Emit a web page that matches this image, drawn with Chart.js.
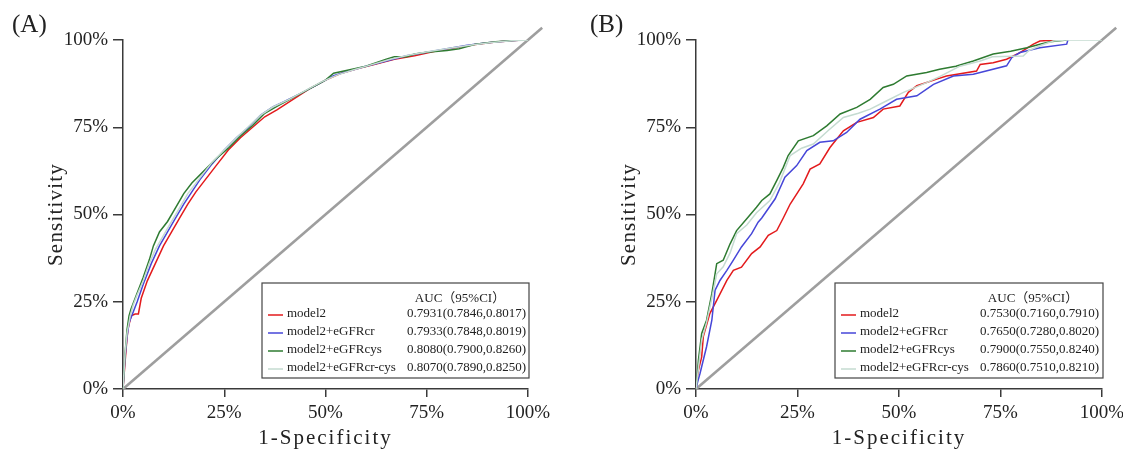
<!DOCTYPE html>
<html>
<head>
<meta charset="utf-8">
<script src="https://cdn.jsdelivr.net/npm/chart.js@4.4.1/dist/chart.umd.min.js"></script>
<style>
  html, body { margin: 0; padding: 0; background: #fff; }
  #wrap { position: relative; width: 1123px; height: 449px; overflow: hidden; }
  canvas { position: absolute; top: 0; }
  #roc-a { left: 0; }
  #roc-b { left: 573px; }
</style>
</head>
<body>
<div id="wrap">
  <canvas id="roc-a" width="573" height="449"></canvas>
  <canvas id="roc-b" width="550" height="449"></canvas>
</div>
<script>
const SERIES_NAMES = ["model2", "model2+eGFRcr", "model2+eGFRcys", "model2+eGFRcr-cys"];
const COLORS = ["#e31a1c", "#4646d8", "#2e7b31", "#c5dbd1"];
const AUC_HEADER = "AUC（95%CI）";
const AUC_A = ["0.7931(0.7846,0.8017)", "0.7933(0.7848,0.8019)", "0.8080(0.7900,0.8260)", "0.8070(0.7890,0.8250)"];
const AUC_B = ["0.7530(0.7160,0.7910)", "0.7650(0.7280,0.8020)", "0.7900(0.7550,0.8240)", "0.7860(0.7510,0.8210)"];
const TICK_VALUES = [0, 0.25, 0.5, 0.75, 1];
const TICK_LABELS = ["0%", "25%", "50%", "75%", "100%"];
const X_TITLE = "1-Specificity";
const Y_TITLE = "Sensitivity";
const DIAGONAL = [[0, 0], [1.035, 1.035]];

// panel A curves, [1-specificity, sensitivity]
const A_MODEL2 = [[0,0],[0.004,0.06],[0.008,0.12],[0.012,0.17],[0.02,0.21],[0.03,0.215],[0.038,0.215],[0.045,0.26],[0.06,0.31],[0.08,0.36],[0.10,0.41],[0.12,0.45],[0.14,0.49],[0.16,0.53],[0.18,0.565],[0.20,0.595],[0.23,0.64],[0.26,0.685],[0.29,0.72],[0.32,0.75],[0.35,0.78],[0.38,0.80],[0.42,0.83],[0.46,0.86],[0.50,0.885],[0.54,0.905],[0.58,0.918],[0.62,0.93],[0.67,0.945],[0.72,0.955],[0.77,0.968],[0.82,0.978],[0.87,0.987],[0.92,0.994],[0.985,1.0]];
const A_CR = [[0,0],[0.005,0.09],[0.01,0.15],[0.015,0.19],[0.025,0.22],[0.035,0.25],[0.05,0.30],[0.07,0.36],[0.09,0.41],[0.11,0.45],[0.13,0.49],[0.15,0.53],[0.17,0.565],[0.19,0.60],[0.22,0.645],[0.25,0.685],[0.28,0.72],[0.31,0.75],[0.34,0.785],[0.37,0.808],[0.40,0.825],[0.44,0.848],[0.48,0.872],[0.52,0.898],[0.56,0.912],[0.60,0.925],[0.65,0.94],[0.70,0.955],[0.75,0.965],[0.80,0.975],[0.85,0.985],[0.90,0.992],[0.95,0.997],[0.985,1.0]];
const A_CYS = [[0,0],[0.005,0.1],[0.01,0.17],[0.015,0.21],[0.02,0.23],[0.03,0.26],[0.04,0.29],[0.05,0.32],[0.065,0.37],[0.075,0.41],[0.09,0.45],[0.11,0.48],[0.13,0.52],[0.15,0.56],[0.17,0.59],[0.20,0.625],[0.23,0.66],[0.26,0.69],[0.29,0.725],[0.32,0.755],[0.35,0.79],[0.38,0.81],[0.42,0.835],[0.46,0.86],[0.50,0.885],[0.52,0.905],[0.56,0.915],[0.60,0.925],[0.65,0.945],[0.67,0.952],[0.70,0.952],[0.72,0.96],[0.75,0.965],[0.80,0.97],[0.83,0.975],[0.87,0.988],[0.92,0.995],[0.98,1.0]];
const A_CRCYS = [[0,0],[0.005,0.1],[0.01,0.16],[0.018,0.21],[0.025,0.24],[0.035,0.27],[0.05,0.31],[0.065,0.36],[0.08,0.40],[0.10,0.44],[0.12,0.48],[0.14,0.52],[0.16,0.56],[0.19,0.605],[0.22,0.65],[0.25,0.685],[0.28,0.72],[0.31,0.752],[0.34,0.785],[0.37,0.808],[0.41,0.83],[0.45,0.855],[0.49,0.88],[0.53,0.9],[0.57,0.915],[0.61,0.928],[0.66,0.945],[0.71,0.958],[0.76,0.968],[0.81,0.977],[0.86,0.986],[0.91,0.993],[0.96,0.998],[1.0,1.0]];

// panel B curves
const B_MODEL2 = [[0,0],[0.003,0.03],[0.006,0.054],[0.014,0.092],[0.018,0.15],[0.034,0.216],[0.051,0.254],[0.076,0.311],[0.092,0.34],[0.112,0.349],[0.137,0.388],[0.158,0.407],[0.178,0.44],[0.199,0.454],[0.215,0.49],[0.232,0.53],[0.264,0.588],[0.281,0.63],[0.305,0.645],[0.33,0.692],[0.363,0.74],[0.396,0.764],[0.437,0.778],[0.461,0.802],[0.502,0.811],[0.523,0.85],[0.544,0.869],[0.593,0.888],[0.617,0.897],[0.691,0.911],[0.70,0.93],[0.732,0.935],[0.765,0.945],[0.798,0.964],[0.831,0.988],[0.847,0.997],[0.884,1.0]];
const B_CR = [[0,0],[0.004,0.02],[0.01,0.045],[0.026,0.121],[0.039,0.197],[0.047,0.283],[0.059,0.311],[0.076,0.34],[0.092,0.369],[0.112,0.407],[0.137,0.445],[0.153,0.478],[0.162,0.49],[0.195,0.545],[0.219,0.607],[0.248,0.64],[0.273,0.683],[0.305,0.707],[0.338,0.711],[0.371,0.735],[0.404,0.773],[0.453,0.802],[0.494,0.83],[0.544,0.84],[0.585,0.873],[0.634,0.897],[0.683,0.902],[0.765,0.926],[0.778,0.95],[0.798,0.964],[0.847,0.978],[0.913,0.988],[0.916,1.0]];
const B_CYS = [[0,0],[0.003,0.04],[0.006,0.083],[0.014,0.159],[0.026,0.197],[0.039,0.273],[0.051,0.359],[0.067,0.369],[0.084,0.416],[0.10,0.454],[0.125,0.488],[0.149,0.521],[0.162,0.54],[0.182,0.559],[0.20,0.60],[0.215,0.635],[0.227,0.669],[0.252,0.711],[0.289,0.726],[0.322,0.754],[0.355,0.788],[0.396,0.807],[0.429,0.83],[0.461,0.864],[0.486,0.873],[0.519,0.897],[0.568,0.907],[0.60,0.916],[0.64,0.925],[0.683,0.94],[0.732,0.96],[0.775,0.968],[0.815,0.978],[0.845,0.987],[0.872,0.995],[0.913,1.0]];
const B_CRCYS = [[0,0],[0.004,0.04],[0.008,0.08],[0.014,0.14],[0.026,0.19],[0.039,0.26],[0.051,0.33],[0.067,0.35],[0.084,0.39],[0.10,0.445],[0.125,0.47],[0.149,0.505],[0.182,0.54],[0.205,0.59],[0.232,0.669],[0.26,0.69],[0.289,0.702],[0.325,0.74],[0.363,0.778],[0.40,0.79],[0.429,0.802],[0.47,0.826],[0.511,0.85],[0.568,0.878],[0.60,0.895],[0.65,0.925],[0.70,0.94],[0.73,0.952],[0.806,0.954],[0.82,0.97],[0.85,0.985],[0.88,0.997],[0.91,1.0],[1.0,1.0]];

const FONT = "'Liberation Serif', 'Times New Roman', serif";
const INK = "#222";
const AXIS = "#3a3a3a";

const toXY = (pts) => pts.map(([x, y]) => ({ x, y }));

// draws the AUC table in the lower right of the plot
const aucBox = {
  id: "aucBox",
  afterDraw(chart, args, opts) {
    const { ctx, chartArea } = chart;
    const left = chartArea.left + 139;
    const right = chartArea.right + 1;
    const top = 283, bottom = 378;
    ctx.save();
    ctx.strokeStyle = "#444";
    ctx.lineWidth = 1.2;
    ctx.strokeRect(left, top, right - left, bottom - top);
    ctx.font = "13px " + FONT + ", 'Noto Sans CJK SC'";
    ctx.fillStyle = INK;
    ctx.textBaseline = "middle";
    ctx.textAlign = "center";
    ctx.fillText(AUC_HEADER, left + 198, 299);
    ctx.textAlign = "left";
    SERIES_NAMES.forEach((name, i) => {
      const y = 314 + i * 18;
      ctx.strokeStyle = COLORS[i];
      ctx.lineWidth = 1.5;
      ctx.beginPath();
      ctx.moveTo(left + 6, y + 1);
      ctx.lineTo(left + 21, y + 1);
      ctx.stroke();
      ctx.fillText(name, left + 25, y);
      ctx.fillText(opts.auc[i], left + 145, y);
    });
    ctx.restore();
  },
};

const panelTag = {
  id: "panelTag",
  afterDraw(chart, args, opts) {
    const ctx = chart.ctx;
    ctx.save();
    ctx.font = "25px " + FONT;
    ctx.fillStyle = INK;
    ctx.textBaseline = "middle";
    ctx.textAlign = "left";
    ctx.fillText(opts.text, opts.x, 25);
    ctx.restore();
  },
};

// axis titles in the figure are letter-spaced
const spacedTitles = {
  id: "spacedTitles",
  beforeDraw(chart) {
    Object.values(chart.scales).forEach((s) => {
      if (s._spaced) return;
      const orig = s.drawTitle;
      s.drawTitle = function () {
        this.ctx.save();
        this.ctx.letterSpacing = this.axis === "x" ? "2px" : "1.2px";
        orig.call(this);
        this.ctx.restore();
      };
      s._spaced = true;
    });
  },
};

function tickLabel(v) {
  const i = TICK_VALUES.indexOf(v);
  return i >= 0 ? TICK_LABELS[i] : "";
}

function makePanel(canvasId, curves, auc, tag, tagX, padRight) {
  const datasets = curves.map((pts, i) => ({
    label: SERIES_NAMES[i],
    data: toXY(pts),
    borderColor: COLORS[i],
    borderWidth: 1.5,
    showLine: true,
    pointRadius: 0,
    tension: 0,
    order: 4 - i,
  }));
  datasets.push({
    label: "ref",
    data: toXY(DIAGONAL),
    borderColor: "#9e9e9e",
    borderWidth: 2.6,
    showLine: true,
    pointRadius: 0,
    clip: false,
    order: 10,
  });

  new Chart(document.getElementById(canvasId), {
    type: "scatter",
    data: { datasets },
    options: {
      responsive: false,
      animation: false,
      events: [],
      layout: { padding: { left: 0, top: 40, right: padRight, bottom: 0 } },
      plugins: {
        legend: { display: false },
        tooltip: { enabled: false },
        aucBox: { auc },
        panelTag: { text: tag, x: tagX },
      },
      scales: {
        x: {
          type: "linear",
          min: 0,
          max: 1,
          afterBuildTicks: (s) => { s.ticks = TICK_VALUES.map((v) => ({ value: v })); },
          afterFit: (s) => { s.height = 60; s.paddingLeft = 0; s.paddingRight = 0; },
          ticks: {
            autoSkip: false,
            maxRotation: 0,
            padding: 5,
            color: INK,
            font: { family: FONT, size: 19 },
            callback: tickLabel,
          },
          grid: { drawOnChartArea: false, drawTicks: true, tickLength: 8, color: AXIS, lineWidth: 1.5 },
          border: { display: true, color: AXIS, width: 1.5 },
          title: {
            display: true,
            text: X_TITLE,
            color: INK,
            font: { family: FONT, size: 21, lineHeight: 1 },
            padding: { top: 0, bottom: 0 },
          },
        },
        y: {
          type: "linear",
          min: 0,
          max: 1,
          afterBuildTicks: (s) => { s.ticks = TICK_VALUES.map((v) => ({ value: v })); },
          afterFit: (s) => { s.width = 123; s.paddingTop = 0; s.paddingBottom = 0; },
          ticks: {
            autoSkip: false,
            padding: 5,
            color: INK,
            font: { family: FONT, size: 19 },
            callback: tickLabel,
          },
          grid: { drawOnChartArea: false, drawTicks: true, tickLength: 10, color: AXIS, lineWidth: 1.5 },
          border: { display: true, color: AXIS, width: 1.5 },
          title: {
            display: true,
            text: Y_TITLE,
            color: INK,
            font: { family: FONT, size: 21, lineHeight: 1 },
            padding: { top: 46, bottom: 0 },
          },
        },
      },
    },
    plugins: [aucBox, panelTag, spacedTitles],
  });
}

makePanel("roc-a", [A_MODEL2, A_CR, A_CYS, A_CRCYS], AUC_A, "(A)", 12, 45);
makePanel("roc-b", [B_MODEL2, B_CR, B_CYS, B_CRCYS], AUC_B, "(B)", 17, 21);
</script>
</body>
</html>
